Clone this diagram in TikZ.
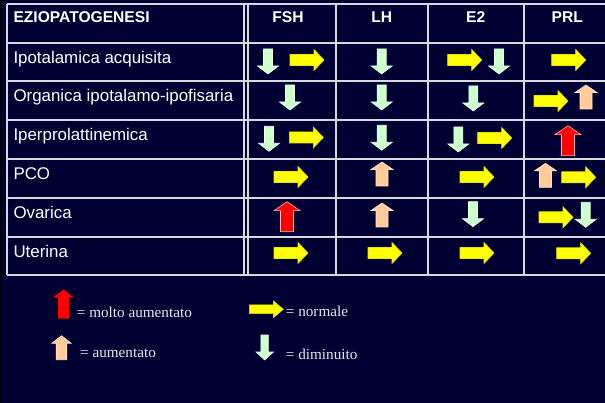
\documentclass[tikz,border=0pt]{standalone}
\usepackage{fontspec}
\setmainfont{Liberation Sans}
\newfontfamily\legfont{Liberation Serif}
\definecolor{bg}{HTML}{000033}
\definecolor{linegray}{HTML}{D8D8E0}
\definecolor{yel}{HTML}{FFFF00}
\definecolor{yelE}{HTML}{E8E800}
\definecolor{grn}{HTML}{CCFFCC}
\definecolor{grnE}{HTML}{EEFFEE}
\definecolor{pea}{HTML}{FFCC99}
\definecolor{peaE}{HTML}{FFE6CC}
\definecolor{rd}{HTML}{FF0000}
\definecolor{rdE}{HTML}{FFB0B0}
\definecolor{legtext}{HTML}{E8E8F0}
\tikzset{
  tline/.style={draw=linegray, line width=1.7pt},
  dline/.style={draw=linegray, line width=1.3pt},
  headtxt/.style={text=white, inner sep=0pt, font=\fontsize{15.6}{18}\selectfont\bfseries},
  rowtxt/.style={text=white, inner sep=0pt, anchor=base west, font=\fontsize{16.9}{20}\selectfont},
  legtxt/.style={text=legtext, inner sep=0pt, anchor=base west, font=\legfont\fontsize{15.2}{18}\selectfont},
  rarr/.pic={\filldraw[fill=yel, draw=yelE, line width=0.6pt] (0,-5.5) -- (24,-5.5) -- (24,-10.5) -- (34,0) -- (24,10.5) -- (24,5.5) -- (0,5.5) -- cycle;},
  darr/.pic={\filldraw[fill=grn, draw=grnE, line width=0.6pt] (-4.5,0) -- (4.5,0) -- (4.5,17) -- (10.5,17) -- (0,25) -- (-10.5,17) -- (-4.5,17) -- cycle;},
  uarr/.pic={\filldraw[fill=pea, draw=peaE, line width=0.6pt] (0,0) -- (11,7.5) -- (6,7.5) -- (6,24) -- (-6,24) -- (-6,7.5) -- (-11,7.5) -- cycle;},
  redarr/.pic={\filldraw[fill=rd, draw=rdE, line width=0.6pt] (0,0) -- (13,9) -- (6.5,9) -- (6.5,30) -- (-6.5,30) -- (-6.5,9) -- (-13,9) -- cycle;},
  redarrL/.pic={\filldraw[fill=rd, draw=black, line width=0.6pt] (0,0) -- (13,9) -- (6.5,9) -- (6.5,30) -- (-6.5,30) -- (-6.5,9) -- (-13,9) -- cycle;}
}
\begin{document}
\begin{tikzpicture}[x=1pt,y=-1pt]
\fill[bg] (0,0) rectangle (605,403);
\fill[black] (0,0) rectangle (2,403);
\useasboundingbox (0,0) rectangle (605,403);
% table lines
\foreach \yy in {4,43,81,120,159,198,237,275} {\draw[tline] (7,\yy) -- (605,\yy);}
\draw[tline] (7,4) -- (7,275);
\draw[dline] (244,4) -- (244,275);
\draw[dline] (248,4) -- (248,275);
\foreach \xx in {336,428,524} {\draw[tline] (\xx,4) -- (\xx,275);}
% header
\node[headtxt, anchor=base west] (h0) at (13.3,22.3) {EZIOPATOGENESI};
\node[headtxt, anchor=base] (h1) at (288,22.3) {FSH};
\node[headtxt, anchor=base] (h2) at (381.7,22.3) {LH};
\node[headtxt, anchor=base] (h3) at (475.7,22.3) {E2};
\node[headtxt, anchor=base] (h4) at (567.3,22.3) {PRL};
% rows
\node[rowtxt] (r1) at (13.3,63.3) {Ipotalamica acquisita};
\node[rowtxt] (r2) at (13.3,101.7) {Organica ipotalamo-ipofisaria};
\node[rowtxt] (r3) at (13.3,140.5) {Iperprolattinemica};
\node[rowtxt] (r4) at (13.3,179.3) {PCO};
\node[rowtxt] (r5) at (13.3,218.3) {Ovarica};
\node[rowtxt] (r6) at (13.3,257.3) {Uterina};
% row 1
\pic at (268,49) {darr};
\pic at (290,60) {rarr};
\pic at (381.7,49) {darr};
\pic at (447.7,60) {rarr};
\pic at (499,49) {darr};
\pic at (551.7,60) {rarr};
% row 2
\pic at (290,85) {darr};
\pic at (381.7,85) {darr};
\pic at (473.3,86) {darr};
\pic at (534,101) {rarr};
\pic at (586,85) {uarr};
% row 3
\pic at (269,126.3) {darr};
\pic at (289.3,137.5) {rarr};
\pic at (381.7,125.3) {darr};
\pic at (458.3,127) {darr};
\pic at (477.7,138) {rarr};
\pic at (568,125.7) {redarr};
% row 4
\pic at (274,177) {rarr};
\pic at (382,162) {uarr};
\pic at (460,177) {rarr};
\pic at (545.5,163.3) {uarr};
\pic at (561.7,177.3) {rarr};
% row 5
\pic at (287,201.7) {redarr};
\pic at (382,203) {uarr};
\pic at (473,201.7) {darr};
\pic at (539,217.3) {rarr};
\pic at (585.7,202.3) {darr};
% row 6
\pic at (274,253) {rarr};
\pic at (368,253) {rarr};
\pic at (460,253) {rarr};
\pic at (556.7,253.3) {rarr};
% legend
\pic[xscale=0.9] at (63.5,289) {redarrL};
\node[legtxt] (l1) at (76.7,317.3) {= molto aumentato};
\pic[xscale=0.88] at (61.5,335.7) {uarr};
\node[legtxt] (l2) at (80,357.3) {= aumentato};
\pic[yscale=0.8] at (249.3,309.3) {rarr};
\node[legtxt] (l3) at (285.7,316.7) {= normale};
\pic[xscale=0.83] at (264.7,335) {darr};
\node[legtxt] (l4) at (285.7,359) {= diminuito};
\end{tikzpicture}
\end{document}
